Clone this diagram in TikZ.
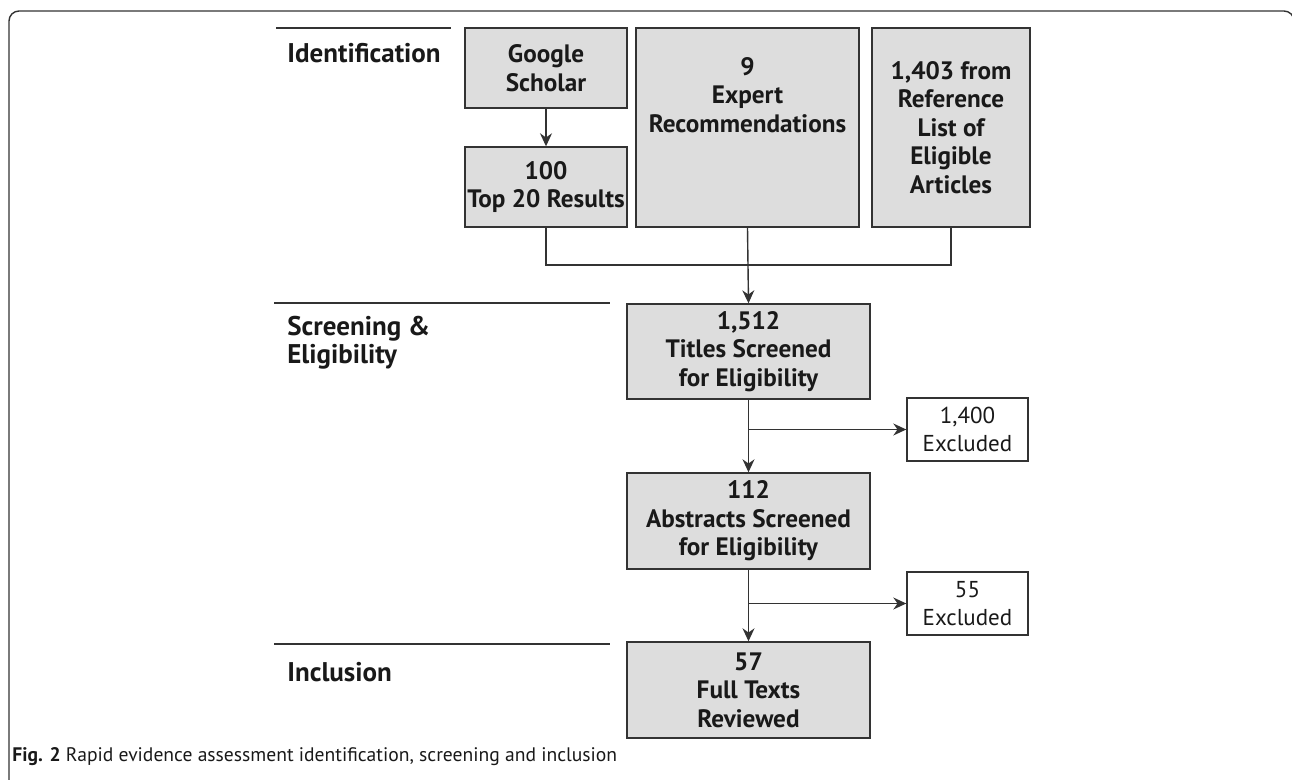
\documentclass[tikz,border=0pt]{standalone}
\usepackage{fontspec}
\setmainfont{PT Sans}
\usetikzlibrary{arrows.meta}
\definecolor{boxgray}{HTML}{DDDDDD}
\definecolor{linegray}{HTML}{333333}
\begin{document}
\begin{tikzpicture}[x=0.5pt, y=-0.5pt,
   every node/.style={font=\fontsize{11.5}{14}\selectfont, text=black!90},
   stage/.style={draw=linegray, line width=0.7pt, fill=boxgray, align=center,
     inner sep=0pt, font=\fontsize{12.6}{14.2}\selectfont\bfseries},
   excl/.style={draw=linegray, line width=0.7pt, fill=white, align=center,
     inner sep=0pt, minimum width=60.5pt, minimum height=31.5pt},
   phase/.style={anchor=west, align=left, inner sep=0pt,
     font=\fontsize{13.5}{14}\selectfont\bfseries},
   link/.style={draw=linegray, line width=0.7pt},
   arr/.style={link, -{Stealth[length=6.5pt, width=6pt]}}]
\useasboundingbox (0,0) rectangle (1292,780);
\clip (0,0) rectangle (1292,780);
% frame
\draw[linegray, line width=0.7pt, rounded corners=5pt] (9,800) -- (9,11) -- (1294,11) -- (1294,800);
% phases
\node[phase] (ident) at (287,53) {Identification};
\node[phase] (screen) at (287,343) {Screening \&\\Eligibility};
\node[phase] (incl) at (287,672) {Inclusion};
\draw[link] (276,28) -- (451,28);
\draw[link] (274,303) -- (610,303);
\draw[link] (274,644) -- (610,644);
% identification
\node[stage, minimum width=81pt, minimum height=40pt] (scholar) at (546,68) {Google\\Scholar};
\node[stage, minimum width=81pt, minimum height=40pt] (top) at (546,187) {100\\Top 20 Results};
\node[stage, minimum width=111.5pt, minimum height=99.5pt] (expert) at (747.5,127.5) {9\\Expert\\Recommendations\\\strut\\\strut};
\node[stage, minimum width=79pt, minimum height=99.5pt] (reflist) at (951,127.5) {1,403 from\\Reference\\List of\\Eligible\\Articles};
% screening and inclusion
\node[stage, minimum width=121.5pt, minimum height=47.5pt] (titles) at (748.5,351.5) {1,512\\Titles Screened\\for Eligibility};
\node[stage, minimum width=121.5pt, minimum height=48pt] (abstracts) at (748.5,521) {112\\Abstracts Screened\\for Eligibility};
\node[stage, minimum width=121.5pt, minimum height=48pt] (fulltext) at (748.5,690) {57\\Full Texts\\Reviewed};
\node[excl] (exclA) at (967.5,429.5) {1,400\\Excluded};
\node[excl] (exclB) at (967.5,603.5) {55\\Excluded};
% connectors
\coordinate (merge) at (747.5,265);
\draw[arr] (scholar) -- (top);
\draw[link] (top.south) |- (merge) -| (reflist.south);
\draw[arr] (expert.south) -- (titles.north);
\draw[arr] (titles) -- (abstracts);
\draw[arr] (titles.south |- exclA.west) -- (exclA.west);
\draw[arr] (abstracts) -- (fulltext);
\draw[arr] (abstracts.south |- exclB.west) -- (exclB.west);
% caption
\node[anchor=base west, inner sep=0pt, font=\fontsize{9.8}{11}\selectfont] (caption) at (12,762)
  {\textbf{Fig. 2} Rapid evidence assessment identification, screening and inclusion};
\end{tikzpicture}
\end{document}
